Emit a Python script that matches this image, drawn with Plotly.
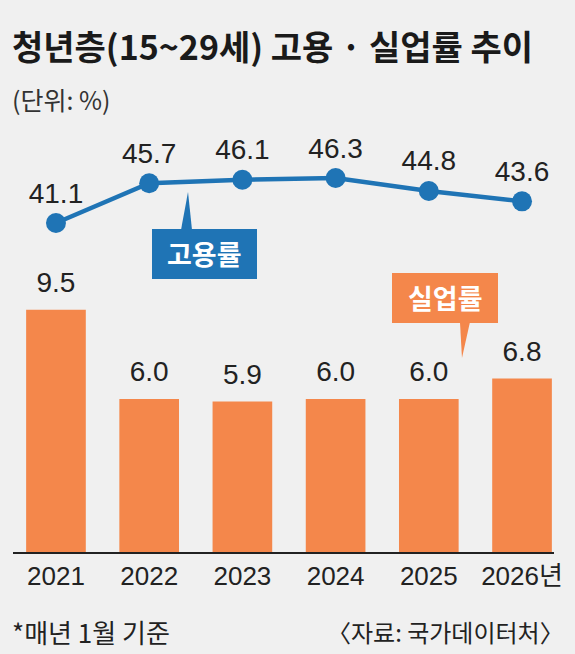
import plotly.graph_objects as go

years = ["2021", "2022", "2023", "2024", "2025", "2026년"]
employment = [41.1, 45.7, 46.1, 46.3, 44.8, 43.6]
unemployment = [9.5, 6.0, 5.9, 6.0, 6.0, 6.8]

ORANGE = "#F4874B"
BLUE = "#1F74B5"
BG = "#F0F0F0"
NUM = "Liberation Sans, Noto Sans CJK KR, sans-serif"
KR = "Noto Sans CJK KR, sans-serif"

W, H = 575, 654
L, R, T, B = 13, 21, 130, 102


def paper(x, y):
    # pixel position -> paper coords
    return (x - L) / (W - L - R), (H - B - y) / (H - T - B)


def path(points):
    pts = [paper(x, y) for x, y in points]
    return "M " + " L ".join(f"{a:.4f},{b:.4f}" for a, b in pts) + " Z"


fig = go.Figure()

fig.add_trace(go.Bar(x=years, y=unemployment, width=0.64, marker=dict(color=ORANGE, line_width=0),
                     yaxis="y"))
fig.add_trace(go.Scatter(x=years, y=unemployment, mode="markers+text", yaxis="y",
                         marker=dict(size=16, opacity=0),
                         text=[f"{v:.1f}" for v in unemployment], textposition="top center",
                         textfont=dict(family=NUM, size=28, color="#222222"), cliponaxis=False))
fig.add_trace(go.Scatter(x=years, y=employment, mode="lines+markers+text", yaxis="y2",
                         line=dict(color=BLUE, width=4.5), marker=dict(color=BLUE, size=20),
                         text=[f"{v:.1f}" for v in employment], textposition="top center",
                         textfont=dict(family=NUM, size=28, color="#222222"), cliponaxis=False))

shapes = []
annotations = []


def text_at(x, y, s, size, anchor="left", bold=False, color="#1a1a1a"):
    px_, py_ = paper(x, y)
    annotations.append(dict(x=px_, y=py_, xref="paper", yref="paper", xanchor=anchor, yanchor="middle",
                            text=f"<b>{s}</b>" if bold else s, showarrow=False,
                            font=dict(family=KR, size=size, color=color)))


# 고용률 callout
x0, y0 = paper(152, 279)
x1, y1 = paper(257, 229)
shapes.append(dict(type="rect", xref="paper", yref="paper", x0=x0, y0=y0, x1=x1, y1=y1,
                   fillcolor=BLUE, line_width=0))
shapes.append(dict(type="path", xref="paper", yref="paper",
                   path=path([(181, 230), (188, 192), (192, 230)]), fillcolor=BLUE, line_width=0))
text_at(204.5, 253, "고용률", 27, anchor="center", bold=True, color="white")

# 실업률 callout
x0, y0 = paper(392, 323)
x1, y1 = paper(498, 273)
shapes.append(dict(type="rect", xref="paper", yref="paper", x0=x0, y0=y0, x1=x1, y1=y1,
                   fillcolor=ORANGE, line_width=0))
shapes.append(dict(type="path", xref="paper", yref="paper",
                   path=path([(460, 322), (462, 358), (470, 322)]), fillcolor=ORANGE, line_width=0))
text_at(445, 297, "실업률", 27, anchor="center", bold=True, color="white")

# title, unit, footer
text_at(10, 46, "청년층(15~29세) 고용 · 실업률 추이", 34, bold=True)
text_at(10, 99, "(단위: %)", 25, color="#333333")
text_at(10, 631, "*매년 1월 기준", 26, color="#222222")
text_at(566, 631, "〈자료: 국가데이터처〉", 24, anchor="right", color="#222222")

fig.update_layout(
    width=W, height=H,
    margin=dict(l=L, r=R, t=T, b=B, pad=0),
    paper_bgcolor=BG, plot_bgcolor=BG,
    showlegend=False, hovermode=False,
    bargap=0.36,
    shapes=shapes, annotations=annotations,
    xaxis=dict(type="category", range=[-0.461, 5.343], showline=True, linecolor="#222222", linewidth=1.5,
               ticks="", showgrid=False, zeroline=False,
               tickfont=dict(family=NUM, size=26, color="#222222")),
    yaxis=dict(range=[0, 16.55], visible=False, fixedrange=True),
    yaxis2=dict(range=[3.07, 51.85], overlaying="y", visible=False, fixedrange=True),
)

fig.write_html("out.html", config={"displayModeBar": False},
               post_script="document.body.style.margin='0';")
